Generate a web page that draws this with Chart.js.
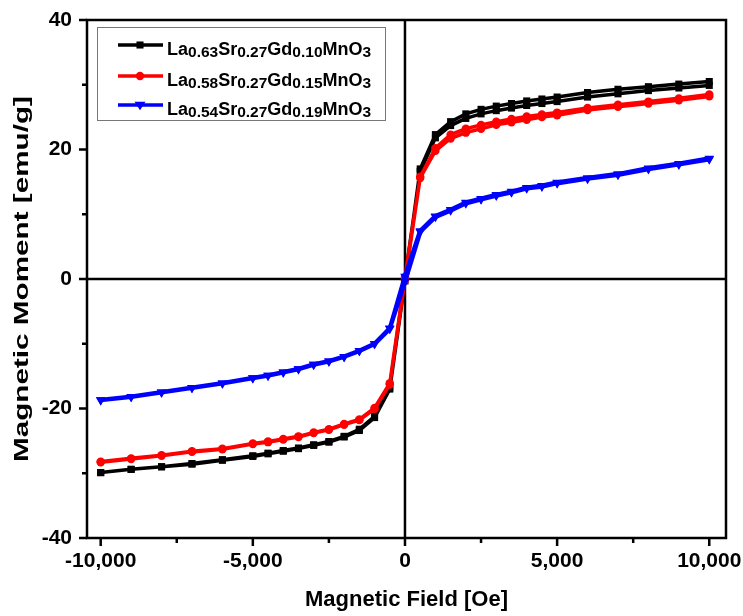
<!DOCTYPE html>
<html>
<head>
<meta charset="utf-8">
<script src="https://cdn.jsdelivr.net/npm/chart.js@4/dist/chart.umd.min.js"></script>
<style>
  html, body { margin: 0; padding: 0; background: #fff; }
</style>
</head>
<body>
<canvas id="mh" width="743" height="616"></canvas>
<script>
// applied field, Oe (same sweep points for every sample)
const fieldOe = [-10000, -9000, -8000, -7000, -6000, -5000, -4500, -4000, -3500, -3000, -2500,
  -2000, -1500, -1000, -500, 0, 500, 1000, 1500, 2000, 2500, 3000, 3500, 4000, 4500, 5000,
  6000, 7000, 8000, 9000, 10000];

// magnetisation, emu/g : descending and ascending branch of each loop
const gd010Down = [-29.9, -29.4, -29.0, -28.6, -28.0, -27.4, -27.0, -26.6, -26.2, -25.7, -25.2,
  -24.4, -23.4, -21.4, -17.0, -0.3, 17.0, 22.3, 24.3, 25.5, 26.2, 26.7, 27.1, 27.5, 27.8, 28.1,
  28.8, 29.3, 29.7, 30.1, 30.5];
const gd010Up = [-29.9, -29.4, -29.0, -28.5, -27.9, -27.3, -26.9, -26.5, -26.1, -25.6, -25.1,
  -24.3, -23.2, -21.2, -16.8, 0.2, 16.6, 21.8, 23.7, 24.8, 25.5, 26.0, 26.4, 26.8, 27.1, 27.4,
  28.1, 28.6, 29.1, 29.5, 29.9];

const gd015Down = [-28.2, -27.7, -27.2, -26.6, -26.2, -25.4, -25.1, -24.7, -24.3, -23.7, -23.2,
  -22.4, -21.7, -19.9, -16.1, 0.3, 15.8, 20.2, 22.3, 23.2, 23.8, 24.3, 24.7, 25.1, 25.4, 25.7,
  26.4, 26.9, 27.4, 27.9, 28.5];
const gd015Up = [-28.3, -27.8, -27.3, -26.7, -26.3, -25.5, -25.2, -24.8, -24.4, -23.8, -23.3,
  -22.5, -21.8, -20.1, -16.3, -0.2, 15.6, 19.8, 21.7, 22.6, 23.2, 23.8, 24.2, 24.6, 25.0, 25.3,
  26.1, 26.6, 27.1, 27.6, 28.2];

const gd019Down = [-18.7, -18.2, -17.5, -16.8, -16.1, -15.3, -14.9, -14.4, -13.9, -13.2, -12.7,
  -12.0, -11.1, -10.0, -7.7, 0.4, 7.4, 9.7, 10.7, 11.8, 12.4, 13.0, 13.5, 14.1, 14.4, 14.9,
  15.6, 16.2, 17.1, 17.8, 18.6];
const gd019Up = [-18.7, -18.2, -17.5, -16.8, -16.1, -15.3, -14.9, -14.4, -13.9, -13.2, -12.7,
  -12.0, -11.1, -10.0, -7.6, -0.4, 7.3, 9.6, 10.6, 11.7, 12.3, 12.9, 13.4, 14.0, 14.3, 14.8,
  15.5, 16.1, 17.0, 17.7, 18.5];

const sampleNames = ['La0.63Sr0.27Gd0.10MnO3', 'La0.58Sr0.27Gd0.15MnO3', 'La0.54Sr0.27Gd0.19MnO3'];

const xMajor = [-10000, -5000, 0, 5000, 10000];
const xMinor = [-7500, -2500, 2500, 7500];
const yMajor = [-40, -20, 0, 20, 40];
const yMinor = [-30, -10, 10, 30];

const yTitle = 'Magnetic Moment [emu/g]';
const FONT = '"Liberation Sans", Arial, sans-serif';

// loop: +H -> -H on the down branch, then back to +H
function loop(down, up) {
  const a = fieldOe.map((x, i) => ({ x, y: down[i] })).reverse();
  const b = fieldOe.map((x, i) => ({ x, y: up[i] }));
  return a.concat(b);
}

function drawMarker(ctx, style, x, y, r, color) {
  ctx.fillStyle = color;
  ctx.beginPath();
  if (style === 'rect') {
    const s = r * Math.SQRT1_2;
    ctx.rect(x - s, y - s, 2 * s, 2 * s);
  } else if (style === 'circle') {
    ctx.arc(x, y, r, 0, Math.PI * 2);
  } else {
    // downward triangle
    ctx.moveTo(x - r, y - r * 0.6);
    ctx.lineTo(x + r, y - r * 0.6);
    ctx.lineTo(x, y + r * 0.95);
    ctx.closePath();
  }
  ctx.fill();
}

const framePlugin = {
  id: 'frame',
  beforeDatasetsDraw(chart) {
    const { ctx, chartArea: a, scales: { x, y } } = chart;
    ctx.save();
    ctx.strokeStyle = '#000';
    ctx.lineWidth = 2.5;
    ctx.beginPath();
    const x0 = x.getPixelForValue(0), y0 = y.getPixelForValue(0);
    ctx.moveTo(a.left, y0); ctx.lineTo(a.right, y0);
    ctx.moveTo(x0, a.top); ctx.lineTo(x0, a.bottom);
    ctx.stroke();
    ctx.restore();
  },
  afterDatasetsDraw(chart) {
    const { ctx, chartArea: a, scales: { x, y } } = chart;
    ctx.save();
    ctx.strokeStyle = '#000';
    ctx.lineWidth = 2.5;
    ctx.strokeRect(a.left, a.top, a.right - a.left, a.bottom - a.top);
    ctx.beginPath();
    xMajor.forEach(v => { const p = x.getPixelForValue(v); ctx.moveTo(p, a.bottom); ctx.lineTo(p, a.bottom + 8); });
    xMinor.forEach(v => { const p = x.getPixelForValue(v); ctx.moveTo(p, a.bottom); ctx.lineTo(p, a.bottom + 5); });
    yMajor.forEach(v => { const p = y.getPixelForValue(v); ctx.moveTo(a.left, p); ctx.lineTo(a.left - 8, p); });
    yMinor.forEach(v => { const p = y.getPixelForValue(v); ctx.moveTo(a.left, p); ctx.lineTo(a.left - 5, p); });
    ctx.stroke();

    // y title, drawn long and narrow like the original
    ctx.save();
    ctx.fillStyle = '#000';
    ctx.font = 'bold 21px ' + FONT;
    ctx.textAlign = 'center';
    ctx.textBaseline = 'middle';
    const w = ctx.measureText(yTitle).width;
    ctx.translate(22, (a.top + a.bottom) / 2);
    ctx.rotate(-Math.PI / 2);
    ctx.scale(366 / w, 1);
    ctx.fillText(yTitle, 0, 0);
    ctx.restore();

    // legend with subscripted formula
    ctx.lineWidth = 1;
    ctx.strokeStyle = '#777';
    ctx.strokeRect(97.5, 27.5, 288, 93);
    const rows = [45, 76, 105];
    chart.data.datasets.forEach((ds, k) => {
      const ry = rows[k];
      ctx.strokeStyle = ds.borderColor;
      ctx.lineWidth = 3.5;
      ctx.beginPath(); ctx.moveTo(118, ry); ctx.lineTo(163, ry); ctx.stroke();
      drawMarker(ctx, ds.markerShape, 140, ry, ds.pointRadius, ds.borderColor);
      let tx = 167;
      ctx.fillStyle = '#000';
      ctx.textAlign = 'left';
      ctx.textBaseline = 'alphabetic';
      ds.label.match(/[A-Za-z]+|[0-9.]+/g).forEach(part => {
        const isSub = /[0-9]/.test(part);
        ctx.font = 'bold ' + (isSub ? 15.5 : 18) + 'px ' + FONT;
        ctx.fillText(part, tx, ry + (isSub ? 12 : 10));
        tx += ctx.measureText(part).width;
      });
    });
    ctx.restore();
  }
};

const datasets = [
  { label: sampleNames[0], data: loop(gd010Down, gd010Up), borderColor: '#000000', backgroundColor: '#000000',
    pointStyle: 'rect', markerShape: 'rect', pointRadius: 5, borderWidth: 3.5, order: 3 },
  { label: sampleNames[1], data: loop(gd015Down, gd015Up), borderColor: '#ff0000', backgroundColor: '#ff0000',
    pointStyle: 'circle', markerShape: 'circle', pointRadius: 4.2, borderWidth: 3.5, order: 2 },
  { label: sampleNames[2], data: loop(gd019Down, gd019Up), borderColor: '#0000ff', backgroundColor: '#0000ff',
    pointStyle: 'triangle', pointRotation: 180, markerShape: 'tri', pointRadius: 5.5, borderWidth: 4.5, order: 1 }
];
datasets.forEach(d => { d.showLine = true; d.pointBorderWidth = 0; d.tension = 0; });

new Chart(document.getElementById('mh'), {
  type: 'scatter',
  data: { datasets },
  options: {
    responsive: false,
    animation: false,
    devicePixelRatio: 1,
    layout: { padding: { left: 0, top: 20, right: 17, bottom: 0 } },
    plugins: { legend: { display: false }, tooltip: { enabled: false } },
    scales: {
      x: {
        type: 'linear', min: -10450, max: 10550,
        afterBuildTicks: s => { s.ticks = xMajor.map(v => ({ value: v })); },
        afterFit: s => { s.height = 78; s.paddingLeft = 0; s.paddingRight = 0; },
        grid: { drawOnChartArea: false, drawTicks: false },
        border: { display: false },
        ticks: { color: '#000', padding: 11, maxRotation: 0, autoSkip: false,
          font: { family: FONT, size: 21, weight: 'bold' },
          callback: v => v.toLocaleString('en-US') },
        title: { display: true, text: 'Magnetic Field [Oe]', color: '#000',
          font: { family: FONT, size: 22, weight: 'bold' }, padding: { bottom: 3 } }
      },
      y: {
        type: 'linear', min: -40, max: 40,
        afterBuildTicks: s => { s.ticks = yMajor.map(v => ({ value: v })); },
        afterFit: s => { s.width = 87; s.paddingTop = 0; s.paddingBottom = 0; },
        grid: { drawOnChartArea: false, drawTicks: false },
        border: { display: false },
        ticks: { color: '#000', padding: 15,
          font: { family: FONT, size: 21, weight: 'bold' } },
        title: { display: false }
      }
    }
  },
  plugins: [framePlugin]
});
</script>
</body>
</html>
